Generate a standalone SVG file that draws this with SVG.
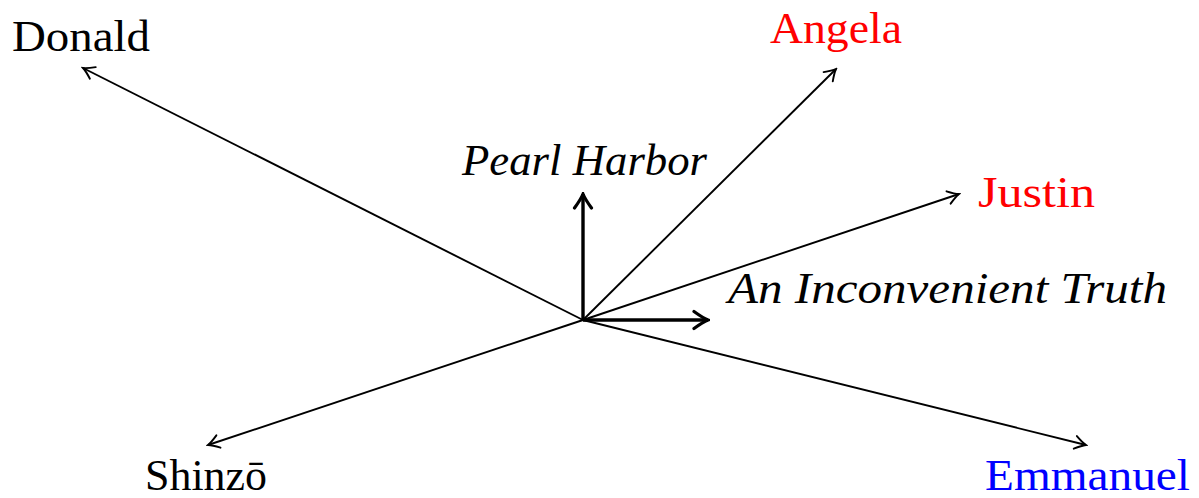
<svg xmlns="http://www.w3.org/2000/svg" width="1199" height="498" viewBox="0 0 1199 498">
<style>
.lbl{font-family:"Liberation Serif","Times New Roman",Times,serif;font-size:44px}
.it{font-style:italic}
.thin{stroke:#000;stroke-width:1.9;fill:none}
.thick{stroke:#000;stroke-width:3.4;fill:none}
</style>
<defs>
<marker id="ah" markerUnits="userSpaceOnUse" viewBox="-14 -9 16 18" refX="0" refY="0" markerWidth="16" markerHeight="18" orient="auto">
<path d="M-11,-6.5 Q-4,-1.5 0,0 Q-4,1.5 -11,6.5" stroke="#000" stroke-width="1.9" fill="none" stroke-linecap="round"/>
</marker>
<marker id="ahb" markerUnits="userSpaceOnUse" viewBox="-18 -11 20 22" refX="0" refY="0" markerWidth="20" markerHeight="22" orient="auto">
<path d="M-14,-8.5 Q-5,-2 0,0 Q-5,2 -14,8.5" stroke="#000" stroke-width="3.2" fill="none" stroke-linecap="round"/>
</marker>
</defs>
<g id="connectors">
<line class="thin" x1="583" y1="320" x2="83" y2="68" marker-end="url(#ah)"/>
<line class="thin" x1="583" y1="320" x2="836" y2="69" marker-end="url(#ah)"/>
<line class="thin" x1="583" y1="320" x2="959" y2="194" marker-end="url(#ah)"/>
<line class="thin" x1="583" y1="320" x2="1086" y2="445" marker-end="url(#ah)"/>
<line class="thin" x1="583" y1="320" x2="208" y2="445" marker-end="url(#ah)"/>
<line class="thick" x1="583" y1="320" x2="583" y2="194" marker-end="url(#ahb)"/>
<line class="thick" x1="583" y1="320" x2="708" y2="320" marker-end="url(#ahb)"/>
</g>
<g id="donald"><text class="lbl" x="12" y="51" textLength="138" lengthAdjust="spacingAndGlyphs">Donald</text></g>
<g id="angela"><text class="lbl" x="770" y="43" fill="#f00" textLength="132" lengthAdjust="spacingAndGlyphs">Angela</text></g>
<g id="justin"><text class="lbl" x="978" y="207" fill="#f00" textLength="117" lengthAdjust="spacingAndGlyphs">Justin</text></g>
<g id="shinzo"><text class="lbl" x="145" y="490" textLength="122" lengthAdjust="spacingAndGlyphs">Shinzō</text></g>
<g id="emmanuel"><text class="lbl" x="985" y="490" fill="#00f" textLength="205" lengthAdjust="spacingAndGlyphs">Emmanuel</text></g>
<g id="pearl"><text class="lbl it" x="462" y="175" textLength="245" lengthAdjust="spacingAndGlyphs">Pearl Harbor</text></g>
<g id="truth"><text class="lbl it" x="728" y="303" textLength="439" lengthAdjust="spacingAndGlyphs">An Inconvenient Truth</text></g>
</svg>
